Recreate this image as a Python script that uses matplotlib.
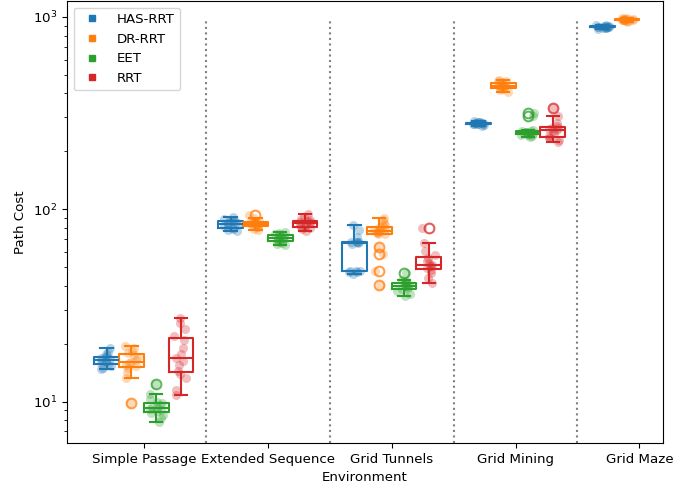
import numpy as np
import matplotlib
matplotlib.use("Agg")
import matplotlib.pyplot as plt
from matplotlib.lines import Line2D

plt.rcParams["font.size"] = 9.6

# Environments and planners
environments = ["Simple Passage", "Extended Sequence", "Grid Tunnels",
                "Grid Mining", "Grid Maze"]
planners = ["HAS-RRT", "DR-RRT", "EET", "RRT"]
colors = ["#1f77b4", "#ff7f0e", "#2ca02c", "#d62728"]

# Path cost per run, one list per planner (index follows environments)
has_rrt = [
    [14.7, 15.0, 15.3, 15.6, 15.9, 16.1, 16.3, 16.5, 16.6, 16.8, 17.0, 17.2, 17.6, 18.2, 19.1],
    [77, 78, 79, 79.5, 80.5, 82, 83, 84, 85, 86, 86.5, 87.5, 88, 89.5, 91],
    [46, 47, 47.3, 47.5, 47.7, 48, 66, 67, 68, 68, 68, 68, 72, 78, 83],
    [272, 275, 276, 277, 278, 278.5, 279, 280, 280.5, 281, 282, 283, 284, 285, 287],
    [865, 872, 876, 880, 882, 884, 886, 887, 889, 891, 893, 896, 899, 903, 908],
]
dr_rrt = [
    [9.9, 13.3, 14.2, 15.0, 15.4, 15.6, 15.9, 16.1, 16.5, 17.0, 17.5, 17.9, 18.4, 19.0, 19.5],
    [78, 79, 80.5, 81, 82, 83, 83.5, 84, 84.5, 85, 85.3, 85.7, 87, 90, 93],
    [40.5, 47.6, 58.6, 63.6, 74, 74.4, 75, 76, 76.5, 77.3, 78, 78.5, 79, 80.5, 81.7,
     83, 85, 88, 90.4],
    [405, 415, 422, 426, 430, 433, 436, 438, 441, 445, 451, 457, 462, 466, 470],
    [945, 952, 955, 958, 960, 962, 964, 966, 968, 970, 972, 975, 978, 982, 988],
]
eet = [
    [7.8, 8.2, 8.5, 8.7, 8.9, 9.0, 9.2, 9.3, 9.4, 9.6, 9.8, 10.0, 10.3, 10.9, 12.4],
    [65, 66, 67, 68, 68.4, 69, 70, 70.6, 71.2, 72, 73, 73.6, 74.5, 75.5, 76.4],
    [35.5, 36.5, 37.5, 38.3, 38.9, 39.3, 39.7, 40.0, 40.4, 40.9, 41.3, 41.7, 42.3, 43.1, 46.7],
    [238, 241, 243, 244, 246, 247, 249, 250, 251, 252, 254, 256, 258, 304, 317],
    [],
]
rrt = [
    [10.8, 11.5, 13.2, 14.0, 14.4, 15.5, 16.2, 16.9, 17.8, 19.0, 21.0, 22.0, 24.0, 25.5, 27.3],
    [77, 79, 80, 80.5, 81.5, 83, 84, 85, 85.5, 86, 86.5, 87.5, 89, 91.5, 94],
    [41.5, 44, 46.5, 48.5, 49.7, 50.5, 51, 51.6, 52.5, 54, 55.5, 57.7, 61, 66.6, 80.1],
    [224, 229, 234, 236, 240, 248, 254, 259, 262, 264, 266, 270, 280, 304, 337],
    [],
]
costs = [has_rrt, dr_rrt, eet, rrt]

fig = plt.figure(figsize=(6.93, 4.86), dpi=100)
ax = fig.add_axes([0.0967, 0.0885, 0.86, 0.9095])

rng = np.random.default_rng(3)
slot = 0.8 / len(planners)

for k, (name, color) in enumerate(zip(planners, colors)):
    for i, vals in enumerate(costs[k]):
        if not vals:
            continue
        pos = i - 0.4 + slot * (k + 0.5)
        ax.boxplot([vals], positions=[pos], widths=slot, manage_ticks=False,
                   boxprops=dict(color=color, linewidth=1.5),
                   whiskerprops=dict(color=color, linewidth=1.5),
                   capprops=dict(color=color, linewidth=1.5),
                   medianprops=dict(color=color, linewidth=1.5),
                   flierprops=dict(marker="o", markerfacecolor="none",
                                   markeredgecolor=color, markersize=7,
                                   markeredgewidth=1.5, alpha=0.75))
        # overlay individual runs
        jitter = rng.uniform(-0.055, 0.055, len(vals))
        ax.plot(pos + jitter, vals, "o", color=color, alpha=0.3,
                markersize=6.5, markeredgewidth=0, zorder=3)

# dotted separators between environments
for i in range(len(environments) - 1):
    ax.axvline(i + 0.5, ymax=0.962, color="grey", linestyle=":", linewidth=1.5)

ax.set_yscale("log")
ax.set_ylim(6.1, 1210)
ax.set_xlim(-0.62, 4.19)
ax.set_xticks(range(len(environments)))
ax.set_xticklabels(environments)
ax.set_xlabel("Environment")
ax.set_ylabel("Path Cost")

handles = [Line2D([], [], linestyle="none", marker="s", markersize=4,
                  color=c) for c in colors]
ax.legend(handles, planners, loc="upper left")

fig.savefig("out.png", dpi=100)
